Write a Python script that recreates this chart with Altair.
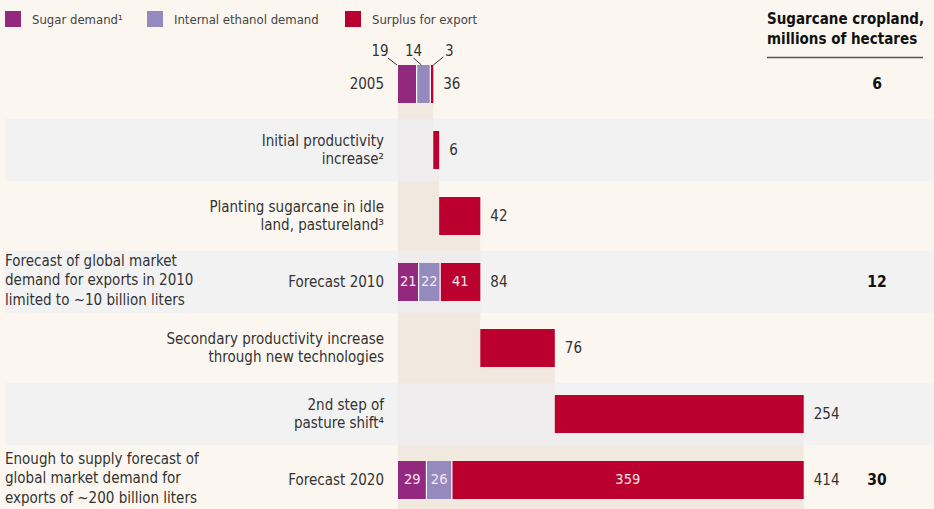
import altair as alt
import pandas as pd

# ---------------- data ----------------
rows = [
    "2005",
    "Initial productivity\nincrease²",
    "Planting sugarcane in idle\nland, pastureland³",
    "Forecast 2010",
    "Secondary productivity increase\nthrough new technologies",
    "2nd step of\npasture shift⁴",
    "Forecast 2020",
]
sugar_demand = [19, 0, 0, 21, 0, 0, 29]
ethanol_demand = [14, 0, 0, 22, 0, 0, 26]
surplus = [3, 6, 42, 41, 76, 254, 359]
is_total = [True, False, False, True, False, False, True]
bar_labels = ["36", "6", "42", "84", "76", "254", "414"]
cropland = ["6", "", "", "12", "", "", "30"]
side_notes = [
    "", "", "",
    "Forecast of global market\ndemand for exports in 2010\nlimited to ~10 billion liters",
    "", "",
    "Enough to supply forecast of\nglobal market demand for\nexports of ~200 billion liters",
]
inside_label_rows = [3, 6]
series_names = ["Sugar demand¹", "Internal ethanol demand", "Surplus for export"]
series_colors = ["#93287f", "#948abd", "#bb0030"]
header_text = "Sugarcane cropland,\nmillions of hectares"
banded_rows = [1, 3, 5]

# ---------------- build tables ----------------
seg_recs, row_recs, beige_recs, sep_recs = [], [], [], []
running = 0
for i in range(len(rows)):
    if is_total[i]:
        parts = [sugar_demand[i], ethanol_demand[i], surplus[i]]
        start = 0
    else:
        parts = [0, 0, surplus[i]]
        start = running
    cur = start
    for k, v in enumerate(parts):
        if v > 0:
            seg_recs.append(dict(idx=i, series=series_names[k], start=cur, end=cur + v,
                                 mid=cur + v / 2, val=str(v),
                                 inside=(i in inside_label_rows)))
            if is_total[i] and k < 2:
                sep_recs.append(dict(idx=i, pos=cur + v))
            cur += v
    running = cur
    row_recs.append(dict(idx=i, label=rows[i], end=cur, total=bar_labels[i],
                         crop=cropland[i], note=side_notes[i],
                         nlab=rows[i].count("\n") + 1,
                         nnote=side_notes[i].count("\n") + 1))
    beige_recs.append(dict(idx=i, end=cur))

seg = pd.DataFrame(seg_recs)
rowdf = pd.DataFrame(row_recs)
beige = pd.DataFrame(beige_recs)
seps = pd.DataFrame(sep_recs)
bands = pd.DataFrame(dict(idx=banded_rows))

W, H = 934, 509
X0 = 398.0     # pixel of value 0
PXU = 0.98     # pixels per unit
Y0, PITCH = 84.0, 66.0
xs = alt.Scale(domain=[-X0 / PXU, (W - X0) / PXU], nice=False, zero=False)
ys = alt.Scale(domain=[-Y0 / PITCH, (H - Y0) / PITCH], nice=False, zero=False, reverse=True)
BH = 19.0 / PITCH   # half bar height
BD = 31.0 / PITCH   # half band height

FONT = "Liberation Sans Narrow, DejaVu Sans Condensed, Liberation Sans, sans-serif"
TXT = "#333333"
LH_LAB = 18.5
LH_NOTE = 19.5

def X(f):
    return alt.X(f, scale=xs, axis=None)

def Y(f):
    return alt.Y(f, scale=ys, axis=None)

beige_layer = alt.Chart(beige).transform_calculate(
    y0=f"datum.idx - {BH}", y1=f"datum.idx + 1 - {BH}", z="0"
).mark_rect(color="#f1e9df").encode(
    x=X("z:Q"), x2="end:Q", y=Y("y0:Q"), y2="y1:Q"
)

band_layer = alt.Chart(bands).transform_calculate(
    y0=f"datum.idx - {BD}", y1=f"datum.idx + {BD}"
).mark_rect(color="#ebeff5", opacity=0.55).encode(
    x=alt.value(5), x2=alt.value(W), y=Y("y0:Q"), y2="y1:Q"
)

bars = alt.Chart(seg).transform_calculate(
    y0=f"datum.idx - {BH}", y1=f"datum.idx + {BH}"
).mark_rect().encode(
    x=X("start:Q"), x2="end:Q", y=Y("y0:Q"), y2="y1:Q",
    color=alt.Color("series:N", scale=alt.Scale(domain=series_names, range=series_colors), legend=None),
)

sep_layer = alt.Chart(seps).transform_calculate(
    y0=f"datum.idx - {BH}", y1=f"datum.idx + {BH}"
).mark_rule(color="white", strokeWidth=1.2).encode(
    x=X("pos:Q"), y=Y("y0:Q"), y2="y1:Q"
)

inside_txt = alt.Chart(seg).transform_filter("datum.inside").mark_text(
    font=FONT, fontSize=14.5, color="#f6e8ef", align="center", baseline="middle"
).encode(x=X("mid:Q"), y=Y("idx:Q"), text="val:N")

row_layers = []
for n in sorted(rowdf["nlab"].unique()):
    row_layers.append(alt.Chart(rowdf).transform_filter(f"datum.nlab == {n}").mark_text(
        font=FONT, fontSize=15, color=TXT, align="right", baseline="middle",
        lineBreak="\n", lineHeight=LH_LAB, dy=-(n - 1) * LH_LAB / 2
    ).encode(x=alt.value(384), y=Y("idx:Q"), text="label:N"))

val_txt = alt.Chart(rowdf).mark_text(
    font=FONT, fontSize=15, color=TXT, align="left", baseline="middle", dx=10
).encode(x=X("end:Q"), y=Y("idx:Q"), text="total:N")

crop_txt = alt.Chart(rowdf).mark_text(
    font=FONT, fontSize=15.5, fontWeight="bold", color="#111111", align="center", baseline="middle"
).encode(x=alt.value(877), y=Y("idx:Q"), text="crop:N")

note_layers = []
for n in sorted(rowdf.loc[rowdf.note != "", "nnote"].unique()):
    note_layers.append(alt.Chart(rowdf).transform_filter(
        f"datum.note != '' && datum.nnote == {n}").mark_text(
        font=FONT, fontSize=15, color=TXT, align="left", baseline="middle",
        lineBreak="\n", lineHeight=LH_NOTE, dy=-(n - 1) * LH_NOTE / 2 - 2
    ).encode(x=alt.value(5), y=Y("idx:Q"), text="note:N"))

one = pd.DataFrame({"a": [0]})

header = alt.Chart(one).mark_text(
    font=FONT, fontSize=15, fontWeight="bold", color="#111111", align="left",
    baseline="middle", lineBreak="\n", lineHeight=20
).encode(x=alt.value(767), y=alt.value(19), text=alt.value(header_text))

header_rule = alt.Chart(one).mark_rule(color="#555555", strokeWidth=1.5).encode(
    x=alt.value(767), x2=alt.value(923), y=alt.value(57.5)
)

# 2005 annotations: anchor on segment positions of the first row
first = seg[seg.idx == 0].reset_index(drop=True)
anchors = [first.loc[0, "start"], first.loc[1, "mid"], first.loc[2, "end"]]
ann_dx = [-18, -10, 16]
lead_from = [(-10, -7), (-10, -7), (10, -8)]
lead_to = [(-1, 0), (-2, 0), (0, 0)]
ann_layers = []
for k in range(3):
    d = pd.DataFrame({"ax": [anchors[k]], "ay": [0 - BH], "t": [first.loc[k, "val"]]})
    ann_layers.append(alt.Chart(d).mark_text(
        font=FONT, fontSize=15, color=TXT, align="center", baseline="middle",
        dx=ann_dx[k], dy=-14
    ).encode(x=X("ax:Q"), y=Y("ay:Q"), text="t:N"))
    ann_layers.append(alt.Chart(d).mark_rule(
        color="#333333", strokeWidth=1,
        xOffset=lead_from[k][0], yOffset=lead_from[k][1],
        x2Offset=lead_to[k][0], y2Offset=lead_to[k][1]
    ).encode(x=X("ax:Q"), x2="ax:Q", y=Y("ay:Q"), y2="ay:Q"))

# legend
leg_x = [5, 147, 345]
leg_layers = []
for k in range(3):
    leg_layers.append(alt.Chart(one).mark_rect(color=series_colors[k]).encode(
        x=alt.value(leg_x[k]), x2=alt.value(leg_x[k] + 16), y=alt.value(11), y2=alt.value(27)))
    leg_layers.append(alt.Chart(one).mark_text(
        font=FONT, fontSize=13, color="#444444", align="left", baseline="middle"
    ).encode(x=alt.value(leg_x[k] + 27), y=alt.value(19.5), text=alt.value(series_names[k])))

chart = alt.layer(
    beige_layer, band_layer, bars, sep_layer, inside_txt, *row_layers, val_txt, crop_txt,
    *note_layers, header, header_rule, *ann_layers, *leg_layers
).properties(
    width=W, height=H, background="#fbf7f0", padding=0,
    autosize=alt.AutoSizeParams(type="none")
).configure_view(stroke=None)

chart.save("out.html", embed_options={"renderer": "svg", "actions": False})
